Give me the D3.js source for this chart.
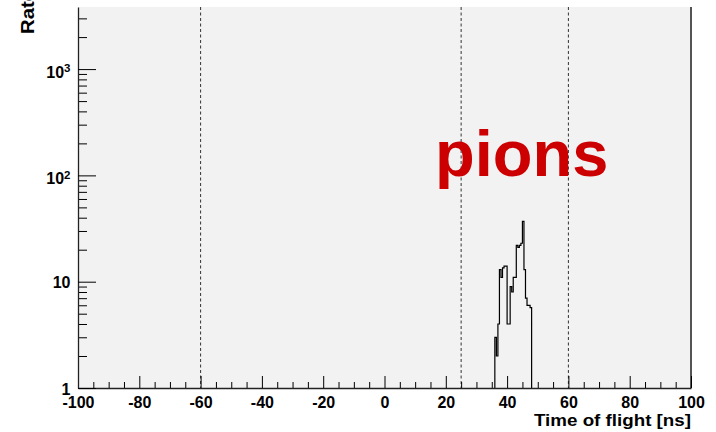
<!DOCTYPE html>
<html>
<head>
<meta charset="utf-8">
<script src="https://cdn.jsdelivr.net/npm/d3@7"></script>
<style>
  html, body { margin: 0; padding: 0; background: #ffffff; }
  svg { display: block; }
  text { font-family: "Liberation Sans", Arial, Helvetica, sans-serif; font-weight: bold; fill: #000; }
</style>
</head>
<body>
<svg id="chart" width="716" height="432"></svg>
<script>
// Time-of-flight histogram: bin lower edges (ns) and rates per bin
const binWidth = 0.5;
const binStarts = [36.0, 36.5, 37.0, 37.5, 38.0, 38.5, 39.0, 39.5, 40.0, 40.5, 41.0, 41.5,
                   42.0, 42.5, 43.0, 43.5, 44.0, 44.5, 45.0, 45.5, 46.0, 46.5, 47.0, 47.5];
const binRates  = [3, 2, 4, 13, 11, 13.5, 14, 14, 4, 4, 9, 8,
                   11, 11, 22, 21, 22, 23, 37, 13, 7, 6, 6, 5.7];

// Time windows marked by dashed lines (ns)
const cutLines = [-60, 25, 60];

// Axis ticks
const xMajorTicks = [-100, -80, -60, -40, -20, 0, 20, 40, 60, 80, 100];
const yMajorTicks = [1, 10, 100, 1000];
const yTickLabels = [["1", null], ["10", null], ["10", "2"], ["10", "3"]];
const xRange = [-100, 100];
const yRange = [1, Math.pow(10, 3.584)];

const xTitle = "Time of flight [ns]";
const yTitle = "Rate";
const particleLabel = "pions";

// Layout
const frame = { left: 78, right: 691, top: 7, bottom: 388 };
const svg = d3.select("#chart");

const x = d3.scaleLinear().domain(xRange).range([frame.left, frame.right]);
const y = d3.scaleLog().domain(yRange).range([frame.bottom, frame.top]);

// Plot area background
svg.append("rect")
  .attr("x", frame.left).attr("y", frame.top)
  .attr("width", frame.right - frame.left)
  .attr("height", frame.bottom - frame.top)
  .attr("fill", "#f2f2f2");

// Right frame edge
svg.append("line")
  .attr("x1", frame.right).attr("x2", frame.right)
  .attr("y1", frame.top).attr("y2", frame.bottom)
  .attr("stroke", "#555").attr("stroke-width", 2);

// Dashed time-window lines
svg.append("g").selectAll("line").data(cutLines).join("line")
  .attr("x1", d => x(d)).attr("x2", d => x(d))
  .attr("y1", frame.top).attr("y2", frame.bottom)
  .attr("stroke", "#333").attr("stroke-width", 1)
  .attr("stroke-dasharray", "3,2.5");

// Histogram outline (step path)
const pts = [[binStarts[0], yRange[0]]];
binStarts.forEach((s, i) => {
  pts.push([s, binRates[i]]);
  pts.push([s + binWidth, binRates[i]]);
});
pts.push([binStarts[binStarts.length - 1] + binWidth, yRange[0]]);

svg.append("path")
  .datum(pts)
  .attr("fill", "none")
  .attr("stroke", "#000")
  .attr("stroke-width", 1.2)
  .attr("d", d3.line().x(d => x(d[0])).y(d => y(d[1])));

// X axis: minor ticks every 5 ns, major every 20 ns
const xMinor = d3.range(xRange[0], xRange[1] + 0.001, 5).filter(v => v % 20 !== 0);
svg.append("g")
  .attr("transform", `translate(0,${frame.bottom})`)
  .call(d3.axisBottom(x).tickValues(xMinor).tickSize(-6).tickFormat(""))
  .call(g => g.select(".domain").remove())
  .call(g => g.selectAll("line").attr("stroke", "#000"));

const xAxisG = svg.append("g")
  .attr("transform", `translate(0,${frame.bottom})`)
  .call(d3.axisBottom(x).tickValues(xMajorTicks).tickSize(-12).tickSizeOuter(0).tickFormat(d => String(d)));
xAxisG.select(".domain").attr("stroke", "#222").attr("stroke-width", 1.3);
xAxisG.selectAll(".tick line").attr("stroke", "#000");
xAxisG.selectAll(".tick text")
  .attr("y", 19.5).attr("dy", null)
  .attr("font-size", 16)
  .style("font-family", "'Liberation Sans', Arial, sans-serif")
  .style("font-weight", "bold")
  .attr("fill", "#000");

// Y axis: log scale, minor ticks at 2..9 of each decade
const yMinor = [];
yMajorTicks.forEach(d => {
  for (let k = 2; k <= 9; k++) if (d * k <= yRange[1]) yMinor.push(d * k);
});
svg.append("g")
  .attr("transform", `translate(${frame.left},0)`)
  .call(d3.axisLeft(y).tickValues(yMinor).tickSize(-9).tickFormat(""))
  .call(g => g.select(".domain").remove())
  .call(g => g.selectAll("line").attr("stroke", "#000"));

const yAxisG = svg.append("g")
  .attr("transform", `translate(${frame.left},0)`)
  .call(d3.axisLeft(y).tickValues(yMajorTicks).tickSize(-18).tickSizeOuter(0).tickFormat(() => ""));
yAxisG.select(".domain").attr("stroke", "#222").attr("stroke-width", 1.3);
yAxisG.selectAll(".tick line").attr("stroke", "#000");
yAxisG.selectAll(".tick text").each(function(d, i) {
  const [base, exp] = yTickLabels[i];
  const t = d3.select(this)
    .attr("x", -7.5)
    .attr("dy", null)
    .attr("y", exp ? 8.3 : 6)
    .attr("text-anchor", "end")
    .attr("font-size", 16)
    .style("font-family", "'Liberation Sans', Arial, sans-serif")
    .style("font-weight", "bold")
    .attr("fill", "#000");
  t.text(null);
  t.append("tspan").text(base);
  if (exp) t.append("tspan").attr("dy", -5.5).attr("font-size", 11.5).text(exp);
});

// Axis titles
svg.append("text")
  .attr("x", frame.right).attr("y", 425.7)
  .attr("text-anchor", "end")
  .attr("font-size", 16)
  .attr("textLength", 157)
  .attr("lengthAdjust", "spacingAndGlyphs")
  .text(xTitle);

svg.append("text")
  .attr("transform", "translate(33.5,34) rotate(-90)")
  .attr("text-anchor", "start")
  .attr("font-size", 17.5)
  .attr("textLength", 44)
  .attr("lengthAdjust", "spacingAndGlyphs")
  .text(yTitle);

// Particle label
svg.append("text")
  .attr("x", 435).attr("y", 175.5)
  .attr("font-size", 65)
  .style("fill", "#cc0000")
  .text(particleLabel);
</script>
</body>
</html>
